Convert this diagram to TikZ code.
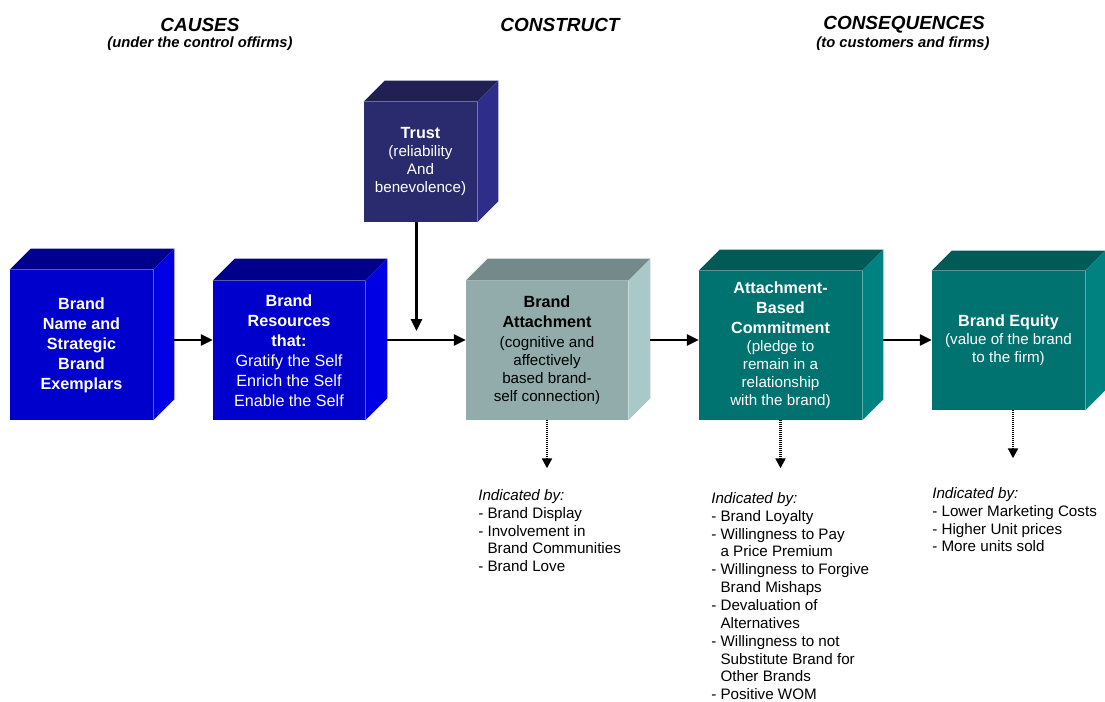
\documentclass[tikz,border=0pt]{standalone}
\usepackage{fontspec}
\setmainfont{Liberation Sans}
\usetikzlibrary{arrows.meta, positioning, calc}

\definecolor{causefront}{RGB}{0,0,204}
\definecolor{causetop}{RGB}{0,0,140}
\definecolor{causeside}{RGB}{0,0,228}
\definecolor{trustfront}{RGB}{42,42,110}
\definecolor{trusttop}{RGB}{32,32,84}
\definecolor{trustside}{RGB}{46,46,138}
\definecolor{attfront}{RGB}{146,172,172}
\definecolor{atttop}{RGB}{116,138,138}
\definecolor{attside}{RGB}{170,200,200}
\definecolor{resfront}{RGB}{0,115,112}
\definecolor{restop}{RGB}{0,90,86}
\definecolor{resside}{RGB}{0,131,128}

% top and right faces of a box drawn behind a front node
\newcommand{\cubesides}[4]{%
  \fill[#2] (#1.north west) -- ++(#4,-#4) -- ($(#1.north east)+(#4,-#4)$) -- (#1.north east) -- cycle;
  \fill[#3] (#1.north east) -- ++(#4,-#4) -- ($(#1.south east)+(#4,-#4)$) -- (#1.south east) -- cycle;
}
\newcommand{\boxtitle}[1]{{\fontsize{11.5}{14}\selectfont\bfseries #1}}
\newcommand{\cont}{\hphantom{- }}

\begin{document}
\begin{tikzpicture}[x=0.025cm, y=-0.025cm,
  cube/.style={inner sep=0pt, align=center, font=\fontsize{10.8}{12.8}\selectfont},
  facesize/.style 2 args={minimum width=#1*0.025cm, minimum height=#2*0.025cm},
  causebox/.style={cube, fill=causefront, text=white, font=\fontsize{11.5}{14.2}\selectfont},
  trustbox/.style={cube, fill=trustfront, text=white},
  constructbox/.style={cube, fill=attfront, text=black},
  resultbox/.style={cube, fill=resfront, text=white},
  heading/.style={font=\fontsize{13.5}{16}\selectfont\bfseries\itshape},
  subheading/.style={font=\fontsize{10.5}{12}\selectfont\bfseries\itshape},
  indlist/.style={inner sep=0pt, align=left, anchor=north west, font=\fontsize{10.8}{12.7}\selectfont},
  flow/.style={-{Triangle[length=8.5pt, width=8pt]}, line width=1.5pt},
  indarrow/.style={-{Triangle[length=7pt, width=7pt]}, line width=1.5pt, dash pattern=on 0.8pt off 0.6pt}]

  \useasboundingbox (0,0) rectangle (1105,702);

  % Column headings
  \node [heading] (causes) at (200,25) {CAUSES};
  \node [subheading] (causesnote) at (200,44) {(under the control offirms)};
  \node [heading] (construct) at (560,25) {CONSTRUCT};
  \node [heading] (consequences) at (904,25) {CONSEQUENCES};
  \node [subheading] (consequencesnote) at (903,44) {(to customers and firms)};

  % Boxes (front faces, then top and side)
  \node [causebox, facesize={143}{150}, font=\fontsize{11.5}{14.2}\selectfont\bfseries] (name) at (81.5,345)
    {Brand\\Name and\\Strategic\\Brand\\Exemplars};
  \cubesides{name}{causetop}{causeside}{21}
  \node [causebox, facesize={152}{139}] (res) at (289,350.5)
    {\boxtitle{Brand}\\\boxtitle{Resources}\\\boxtitle{that:}\\Gratify the Self\\Enrich the Self\\Enable the Self};
  \cubesides{res}{causetop}{causeside}{22}
  \node [trustbox, facesize={113}{120}] (trust) at (420.5,162)
    {\boxtitle{Trust}\\(reliability\\And\\benevolence)};
  \cubesides{trust}{trusttop}{trustside}{21}
  \node [constructbox, facesize={162}{139}] (att) at (547,350.5)
    {\boxtitle{Brand}\\[1.4pt]\boxtitle{Attachment}\\[1.4pt](cognitive and\\affectively\\based brand-\\self connection)};
  \cubesides{att}{atttop}{attside}{22}
  \node [resultbox, facesize={163}{149}] (comm) at (780.5,345.5)
    {\boxtitle{Attachment-}\\[1.4pt]\boxtitle{Based}\\[1.4pt]\boxtitle{Commitment}\\(pledge to\\remain in a\\relationship\\with the brand)};
  \cubesides{comm}{restop}{resside}{21}
  \node [resultbox, facesize={153}{139}] (eq) at (1008.5,340.5)
    {\boxtitle{Brand Equity}\\(value of the brand\\to the firm)};
  \cubesides{eq}{restop}{resside}{20}

  % Main chain
  \coordinate (mainline) at (0,340);
  \coordinate (merge) at ($(trust.south |- mainline)+(-4,-9)$);
  \draw [flow] ($(name.east |- mainline)+(21,0)$) -- (res.west |- mainline);
  \draw [flow] ($(res.east |- mainline)+(22,0)$) -- (att.west |- mainline);
  \draw [flow] (merge |- trust.south) -- (merge);
  \draw [flow] ($(att.east |- mainline)+(22,0)$) -- (comm.west |- mainline);
  \draw [flow] ($(comm.east |- mainline)+(21,0)$) -- (eq.west |- mainline);

  % Indicators
  \coordinate (attind) at ($(att.south)+(0,48)$);
  \coordinate (commind) at ($(comm.south)+(0,48)$);
  \coordinate (eqind) at ($(eq.south)+(4.5,48)$);
  \draw [indarrow] (att.south) -- (attind);
  \draw [indarrow] (comm.south) -- (commind);
  \draw [indarrow] (eqind |- eq.south) -- (eqind);

  \node [indlist] (attlist) at (478,489)
    {\textit{Indicated by:}\\- Brand Display\\- Involvement in\\\cont Brand Communities\\- Brand Love};
  \node [indlist] (commlist) at (711,492)
    {\textit{Indicated by:}\\- Brand Loyalty\\- Willingness to Pay\\\cont a Price Premium\\- Willingness to Forgive\\\cont Brand Mishaps\\- Devaluation of\\\cont Alternatives\\- Willingness to not\\\cont Substitute Brand for\\\cont Other Brands\\- Positive WOM};
  \node [indlist] (eqlist) at (932,487)
    {\textit{Indicated by:}\\- Lower Marketing Costs\\- Higher Unit prices\\- More units sold};
\end{tikzpicture}
\end{document}
